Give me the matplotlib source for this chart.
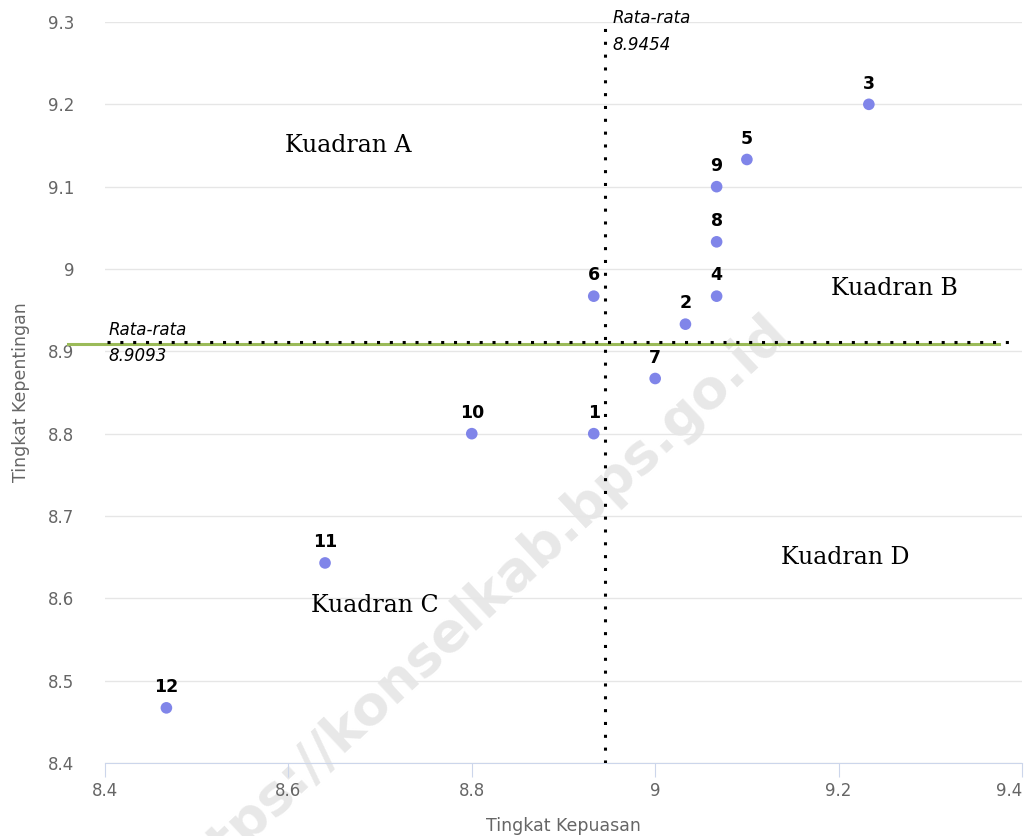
import matplotlib.pyplot as plt

# nilai rata-rata tiap atribut
labels = ["1", "2", "3", "4", "5", "6", "7", "8", "9", "10", "11", "12"]
kepuasan = [8.933, 9.033, 9.233, 9.067, 9.100, 8.933, 9.000, 9.067, 9.067, 8.800, 8.640, 8.467]
kepentingan = [8.800, 8.933, 9.200, 8.967, 9.133, 8.967, 8.867, 9.033, 9.100, 8.800, 8.643, 8.467]
mean_x = 8.9454
mean_y = 8.9093

quadrants = ["Kuadran A", "Kuadran B", "Kuadran C", "Kuadran D"]
quad_pos = [(8.665, 9.150), (9.261, 8.976), (8.694, 8.591), (9.207, 8.649)]

x_ticks = [8.4, 8.6, 8.8, 9.0, 9.2, 9.4]
x_ticklabels = ["8.4", "8.6", "8.8", "9", "9.2", "9.4"]
y_ticks = [8.4, 8.5, 8.6, 8.7, 8.8, 8.9, 9.0, 9.1, 9.2, 9.3]
y_ticklabels = ["8.4", "8.5", "8.6", "8.7", "8.8", "8.9", "9", "9.1", "9.2", "9.3"]

fig = plt.figure(figsize=(10.26, 8.36), dpi=100)
ax = fig.add_axes([0.1023, 0.0873, 0.8938, 0.8864])
ax.set_zorder(1)
ax.patch.set_alpha(0)
ax.set_xlim(8.4, 9.4)
ax.set_ylim(8.4, 9.3)

ax.set_yticks(y_ticks)
ax.set_yticklabels(y_ticklabels)
ax.set_xticks(x_ticks)
ax.set_xticklabels(x_ticklabels)
ax.get_xticklabels()[-1].set_ha("right")
ax.grid(axis="y", color="#e6e6e6", linewidth=1)
ax.set_axisbelow(True)
for s in ["top", "right", "left"]:
    ax.spines[s].set_visible(False)
ax.spines["bottom"].set_color("#ccd6eb")
ax.tick_params(axis="y", length=0, pad=22, labelsize=12, labelcolor="#666666")
ax.tick_params(axis="x", length=10, color="#ccd6eb", direction="out", pad=4,
               labelsize=12, labelcolor="#666666")

ax.set_xlabel("Tingkat Kepuasan", fontsize=12.5, color="#666666", labelpad=12)
ax.set_ylabel("Tingkat Kepentingan", fontsize=12.5, color="#666666", labelpad=13)

# garis rata-rata
ax.plot([8.36, 9.375], [mean_y, mean_y], color="#9bbb59", linewidth=2.2,
        clip_on=False, zorder=2)
ax.plot([8.402, 9.39], [mean_y + 0.0015, mean_y + 0.0015], color="black",
        linewidth=2.2, linestyle=(0, (1, 3.2)), clip_on=False, zorder=3)
ax.axvline(mean_x, color="black", linewidth=2.2, linestyle=(0, (1, 3.2)), zorder=3)

ax.text(8.404, mean_y + 0.006, "Rata-rata", fontsize=12, style="italic",
        ha="left", va="bottom")
ax.text(8.404, mean_y - 0.004, "8.9093", fontsize=12, style="italic",
        ha="left", va="top")
ax.text(mean_x + 0.008, 9.305, "Rata-rata", fontsize=12, style="italic",
        ha="left", va="center", clip_on=False)
ax.text(mean_x + 0.008, 9.272, "8.9454", fontsize=12, style="italic",
        ha="left", va="center")

ax.scatter(kepuasan, kepentingan, s=70, color="#8085e9", edgecolors="none", zorder=4)
for lab, x, y in zip(labels, kepuasan, kepentingan):
    ax.annotate(lab, (x, y), xytext=(0, 8.5), textcoords="offset points",
                ha="center", va="bottom", fontsize=12.5, fontweight="bold")

for q, (x, y) in zip(quadrants, quad_pos):
    ax.text(x, y, q, fontsize=17, family="DejaVu Serif", ha="center", va="center")

# watermark
fig.text(0.462, 0.272, "https://konselkab.bps.go.id", fontsize=39, fontweight="bold",
         color="#e8e8e8", rotation=43, ha="center", va="center", zorder=0)

fig.savefig("out.png", dpi=100)
